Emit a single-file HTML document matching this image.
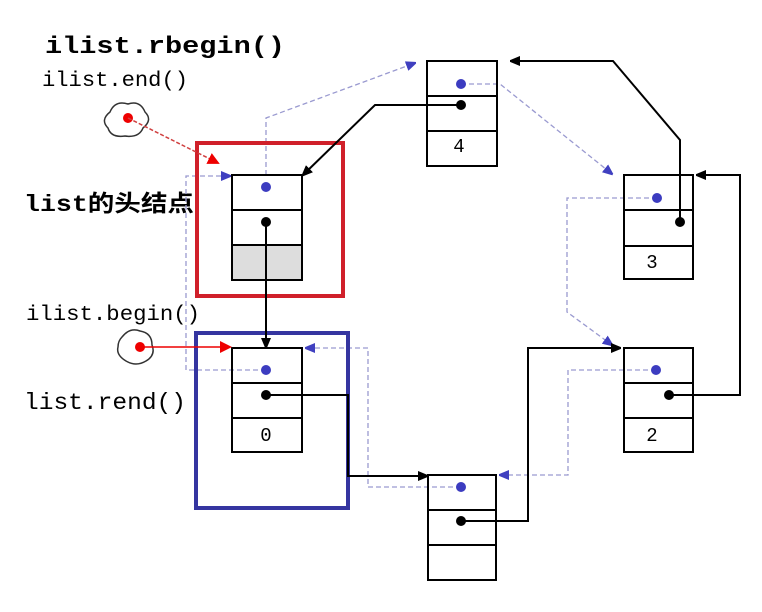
<!DOCTYPE html>
<html><head><meta charset="utf-8"><style>
html,body{margin:0;padding:0;background:#fff;}
svg{display:block;}
.t{font-family:"Liberation Mono","Noto Sans CJK SC",monospace;fill:#000;}
</style></head><body>
<svg width="762" height="612" viewBox="0 0 762 612" xmlns="http://www.w3.org/2000/svg">
<defs>
<marker id="ab" markerWidth="10" markerHeight="10" refX="9" refY="5" orient="auto" markerUnits="userSpaceOnUse"><path d="M0,0 L12,5 L0,10z" fill="#000"/></marker>
<marker id="au" markerWidth="10" markerHeight="10" refX="9" refY="5" orient="auto" markerUnits="userSpaceOnUse"><path d="M0,0 L12,5 L0,10z" fill="#4040c0"/></marker>
<marker id="ar" markerWidth="12" markerHeight="12" refX="10" refY="6" orient="auto" markerUnits="userSpaceOnUse"><path d="M0,0 L12,6 L0,12z" fill="#e00"/></marker>
</defs>

<!-- labels -->
<text class="t" x="45" y="53" font-size="24" font-weight="bold" textLength="240" lengthAdjust="spacingAndGlyphs">ilist.rbegin()</text>
<text class="t" x="42" y="86" font-size="21" textLength="146" lengthAdjust="spacingAndGlyphs">ilist.end()</text>
<text class="t" x="24" y="211" font-size="23" font-weight="bold" textLength="170" lengthAdjust="spacingAndGlyphs">list的头结点</text>
<text class="t" x="26" y="320" font-size="21" textLength="174" lengthAdjust="spacingAndGlyphs">ilist.begin()</text>
<text class="t" x="24" y="409" font-size="23" textLength="162" lengthAdjust="spacingAndGlyphs">list.rend()</text>

<!-- blue dashed links -->
<g fill="none" stroke="#9a9ad0" stroke-width="1.3" stroke-dasharray="5,3">
<path d="M266,175 L266,118 L415,63" marker-end="url(#au)"/>
<path d="M461,84 L500,84 L612,174" marker-end="url(#au)"/>
<path d="M657,198 L567,198 L567,312 L612,345" marker-end="url(#au)"/>
<path d="M656,370 L568,370 L568,475 L500,475" marker-end="url(#au)"/>
<path d="M461,487 L368,487 L368,348 L306,348" marker-end="url(#au)"/>
<path d="M266,370 L186,370 L186,176 L230,176" marker-end="url(#au)"/>
</g>

<rect x="197" y="143" width="146" height="153" fill="none" stroke="#d0202a" stroke-width="4"/>
<rect x="196" y="333" width="152" height="175" fill="none" stroke="#3535a0" stroke-width="4"/>

<!-- nodes -->
<g fill="none" stroke="#000" stroke-width="2">
<rect x="232" y="245" width="70" height="35" fill="#ddd"/>
<rect x="232" y="175" width="70" height="105"/><path d="M232,210H302M232,245H302"/>
<rect x="427" y="61" width="70" height="105"/><path d="M427,96H497M427,131H497"/>
<rect x="624" y="175" width="69" height="104"/><path d="M624,210H693M624,246H693"/>
<rect x="232" y="348" width="70" height="104"/><path d="M232,383H302M232,418H302"/>
<rect x="428" y="475" width="68" height="105"/><path d="M428,510H496M428,545H496"/>
<rect x="624" y="348" width="69" height="104"/><path d="M624,383H693M624,418H693"/>
</g>
<g class="t" font-size="19" text-anchor="middle">
<text x="459" y="152">4</text><text x="652" y="268">3</text>
<text x="266" y="441">0</text><text x="652" y="441">2</text>
</g>

<!-- black links -->
<g fill="none" stroke="#000" stroke-width="2">
<path d="M266,222 L266,347" marker-end="url(#ab)"/>
<path d="M266,395 L348,395 L348,476 L427,476" marker-end="url(#ab)"/>
<path d="M461,521 L528,521 L528,348 L620,348" marker-end="url(#ab)"/>
<path d="M669,395 L740,395 L740,175 L697,175" marker-end="url(#ab)"/>
<path d="M680,222 L680,140 L613,61 L511,61" marker-end="url(#ab)"/>
<path d="M461,105 L375,105 L303,175" marker-end="url(#ab)"/>
</g>

<g fill="#3c3cc0">
<circle cx="266" cy="187" r="5"/><circle cx="461" cy="84" r="5"/><circle cx="657" cy="198" r="5"/>
<circle cx="266" cy="370" r="5"/><circle cx="461" cy="487" r="5"/><circle cx="656" cy="370" r="5"/>
</g>
<g fill="#000">
<circle cx="266" cy="222" r="5"/><circle cx="461" cy="105" r="5"/><circle cx="680" cy="222" r="5"/>
<circle cx="266" cy="395" r="5"/><circle cx="461" cy="521" r="5"/><circle cx="669" cy="395" r="5"/>
</g>

<path d="M110,112 q5,-12 18,-8 q12,-4 17,8 q8,8 -2,16 q-4,10 -18,8 q-14,2 -17,-8 q-8,-8 2,-16z" fill="none" stroke="#333" stroke-width="1.5"/>
<path d="M122,337 q8,-10 18,-6 q12,2 12,14 q4,10 -6,16 q-10,6 -20,0 q-10,-6 -8,-14 q0,-6 4,-10z" fill="none" stroke="#333" stroke-width="1.5"/>
<circle cx="128" cy="118" r="5" fill="#e00"/>
<circle cx="140" cy="347" r="5" fill="#e00"/>
<path d="M128,118 L218,163" stroke="#d04040" stroke-width="1.5" stroke-dasharray="4,2" fill="none" marker-end="url(#ar)"/>
<path d="M140,347 L230,347" stroke="#e00" stroke-width="1.5" fill="none" marker-end="url(#ar)"/>
</svg>
</body></html>
